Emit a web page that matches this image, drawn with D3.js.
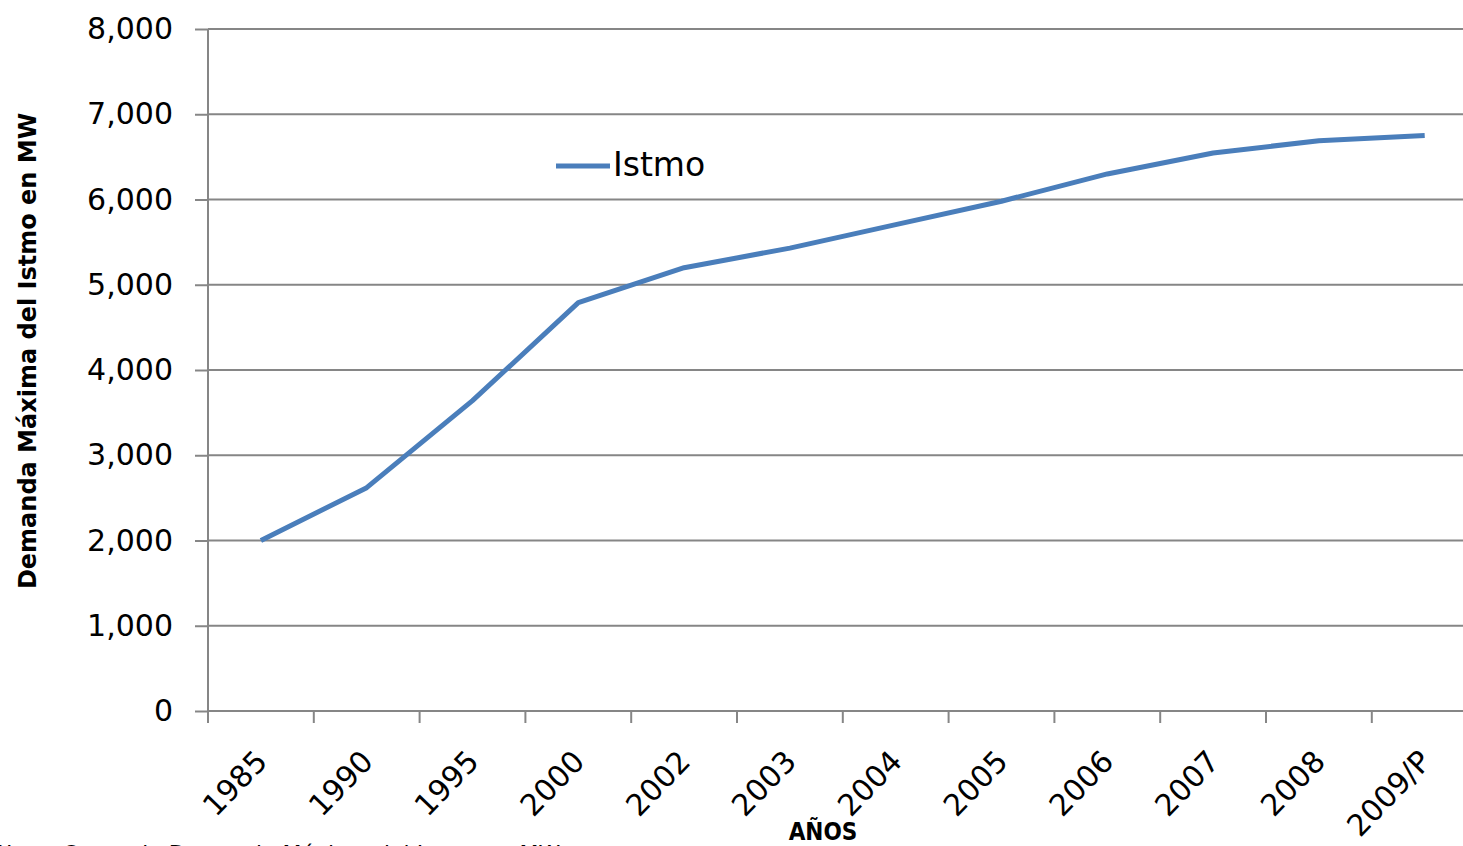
<!DOCTYPE html>
<html lang="es">
<head>
<meta charset="UTF-8">
<title>Demanda Máxima del Istmo</title>
<script src="https://cdn.jsdelivr.net/npm/d3@7"></script>
<style>
  html, body { margin: 0; padding: 0; background: #fff; overflow: hidden; }
  svg { display: block; font-family: "DejaVu Sans", sans-serif; }
</style>
</head>
<body>
<svg id="chart" width="1463" height="846"></svg>
<script>
// datos
var years = ["1985", "1990", "1995", "2000", "2002", "2003", "2004", "2005", "2006", "2007", "2008", "2009/P"];
var demanda = [2000, 2620, 3640, 4790, 5200, 5430, 5705, 5980, 6300, 6545, 6690, 6750];
var yTicks = [0, 1000, 2000, 3000, 4000, 5000, 6000, 7000, 8000];
var serieNombre = "Istmo";

var svg = d3.select("#chart");
var plotLeft = 208, plotTop = 29, plotBottom = 711, plotRight = 1477.6;
var gridColor = "#868686";
var lineColor = "#4a7ebb";

var x = d3.scaleBand().domain(years).range([plotLeft, plotRight]).padding(0);
var y = d3.scaleLinear().domain([0, 8000]).range([plotBottom, plotTop]);

// lineas de la grilla y eje Y
var yAxis = svg.append("g")
    .attr("transform", "translate(" + plotLeft + ",0)")
    .call(d3.axisLeft(y).tickValues(yTicks).tickSize(13).tickFormat(d3.format(",")));
yAxis.select(".domain").remove();
yAxis.selectAll(".tick line").attr("stroke", gridColor).attr("stroke-width", 2);
yAxis.selectAll(".tick text")
    .attr("x", -35)
    .attr("fill", "#000")
    .style("font-size", "30px")
    .style("font-family", "DejaVu Sans");

svg.append("g").selectAll("line")
    .data(yTicks)
    .enter()
    .append("line")
    .attr("x1", plotLeft)
    .attr("x2", plotRight)
    .attr("y1", function (d) { return y(d); })
    .attr("y2", function (d) { return y(d); })
    .attr("stroke", gridColor)
    .attr("stroke-width", 2);

svg.append("line")
    .attr("x1", plotLeft).attr("x2", plotLeft)
    .attr("y1", plotTop).attr("y2", plotBottom + 1)
    .attr("stroke", gridColor)
    .attr("stroke-width", 2);

// eje X con marcas entre categorias
var xAxis = svg.append("g")
    .attr("transform", "translate(0," + plotBottom + ")");
xAxis.selectAll("line")
    .data(years)
    .enter()
    .append("line")
    .attr("x1", function (d) { return x(d); })
    .attr("x2", function (d) { return x(d); })
    .attr("y1", 0)
    .attr("y2", 12)
    .attr("stroke", gridColor)
    .attr("stroke-width", 2);

xAxis.selectAll("text")
    .data(years)
    .enter()
    .append("text")
    .attr("transform", function (d) {
        return "translate(" + (x(d) + x.bandwidth() / 2 + 8) + ",52) rotate(-46)";
    })
    .attr("text-anchor", "end")
    .style("font-size", "30px")
    .text(function (d) { return d; });

// la serie
var line = d3.line()
    .x(function (d, i) { return x(years[i]) + x.bandwidth() / 2; })
    .y(function (d) { return y(d); });

svg.append("path")
    .datum(demanda)
    .attr("d", line)
    .attr("fill", "none")
    .attr("stroke", lineColor)
    .attr("stroke-width", 5)
    .attr("stroke-linejoin", "round");

// leyenda
svg.append("line")
    .attr("x1", 556).attr("x2", 610)
    .attr("y1", 166).attr("y2", 166)
    .attr("stroke", lineColor)
    .attr("stroke-width", 5);
svg.append("text")
    .attr("x", 613)
    .attr("y", 176)
    .style("font-size", "33px")
    .text(serieNombre);

// titulos de ejes
svg.append("text")
    .attr("transform", "translate(36,351) rotate(-90)")
    .attr("text-anchor", "middle")
    .style("font-size", "24px")
    .style("font-weight", "bold")
    .text("Demanda Máxima del Istmo en MW");

svg.append("text")
    .attr("x", 823)
    .attr("y", 840)
    .attr("text-anchor", "middle")
    .style("font-size", "24px")
    .style("font-weight", "bold")
    .style("font-family", "DejaVu Sans Condensed")
    .text("AÑOS");

// nota al pie, cortada por el borde
svg.append("text")
    .attr("x", -4)
    .attr("y", 861)
    .style("font-size", "22px")
    .text("Nota: Curva de Demanda Máxima del Istmo en MW");
</script>
</body>
</html>
